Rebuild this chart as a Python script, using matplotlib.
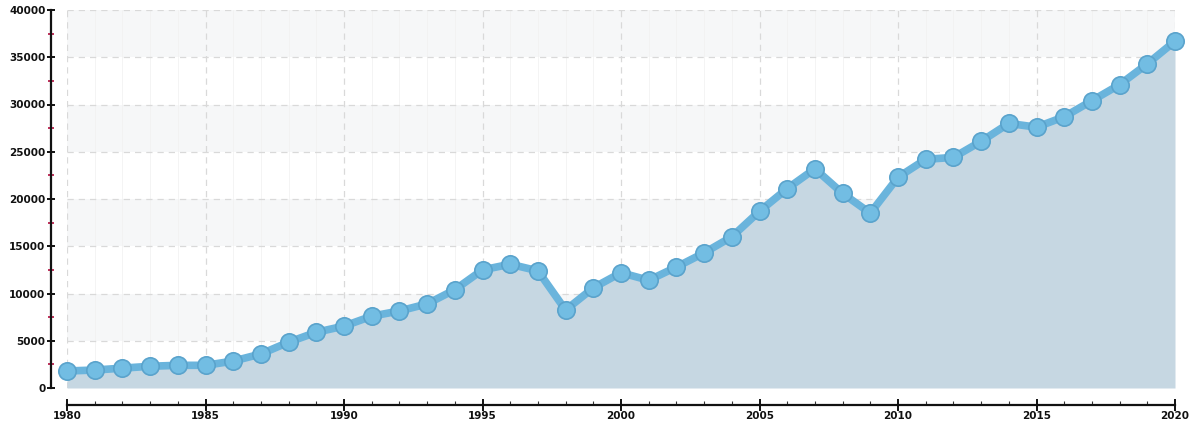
import matplotlib
matplotlib.use("Agg")
import matplotlib.pyplot as plt
from matplotlib.ticker import MultipleLocator

years = list(range(1980, 2021))
values = [1800, 1900, 2100, 2300, 2400, 2400, 2850, 3600, 4850, 5900,
          6550, 7600, 8150, 8900, 10400, 12500, 13100, 12400, 8250, 10600,
          12200, 11400, 12800, 14300, 16000, 18700, 21100, 23200, 20600, 18500,
          22300, 24200, 24400, 26100, 28000, 27600, 28700, 30400, 32100, 34300,
          36700]
y_ticks = [0, 5000, 10000, 15000, 20000, 25000, 30000, 35000, 40000]
x_ticks = [1980, 1985, 1990, 1995, 2000, 2005, 2010, 2015, 2020]

fig = plt.figure(figsize=(11.92, 4.25), dpi=100)
ax = fig.add_axes([67/1192, 1 - 388/425, (1175-67)/1192, (388-10)/425])
ax.set_xlim(years[0], years[-1])
ax.set_ylim(0, 40000)

# alternating background bands
for i in range(len(y_ticks) - 1):
    if i % 2 == 1:
        ax.axhspan(y_ticks[i], y_ticks[i+1], color="#f6f7f8", zorder=0, lw=0)

ax.grid(True, which="major", color="#d9d9d9", linestyle=(0, (5, 4)), linewidth=0.9, zorder=1)
ax.grid(True, which="minor", axis="x", color="#f2f2f2", linestyle="-", linewidth=0.6, zorder=1)

ax.fill_between(years, values, 0, color="#c6d7e2", zorder=2, lw=0)
ax.plot(years, values, color="#6ab4dc", lw=5.5, zorder=3, solid_capstyle="round",
        solid_joinstyle="round")
ax.plot(years, values, linestyle="none", marker="o", markersize=12.5,
        markerfacecolor="#72bde3", markeredgecolor="#5aa3cc", markeredgewidth=1.2,
        zorder=4, clip_on=False)

ax.set_xticks(x_ticks)
ax.set_yticks(y_ticks)
ax.xaxis.set_minor_locator(MultipleLocator(1))
ax.yaxis.set_minor_locator(MultipleLocator(2500))

for s in ["top", "right"]:
    ax.spines[s].set_visible(False)
ax.spines["left"].set_position(("outward", 16 * 0.72))
ax.spines["bottom"].set_position(("outward", 17 * 0.72))
for s in ["left", "bottom"]:
    ax.spines[s].set_linewidth(1.6)
    ax.spines[s].set_color("#111111")

ax.tick_params(axis="y", which="major", direction="inout", length=6, width=1.4,
               color="#111111", labelsize=7.5, pad=1)
ax.tick_params(axis="x", which="major", direction="inout", length=8, width=1.4,
               color="#111111", labelsize=7.5, pad=0)
ax.tick_params(axis="y", which="minor", direction="inout", length=4, width=1.4,
               color="#c0305a")
ax.tick_params(axis="x", which="minor", direction="in", length=3, width=0.8,
               color="#333333")
for lab in ax.get_xticklabels() + ax.get_yticklabels():
    lab.set_fontweight("bold")
    lab.set_color("#111111")

fig.savefig("out.png", dpi=100)
